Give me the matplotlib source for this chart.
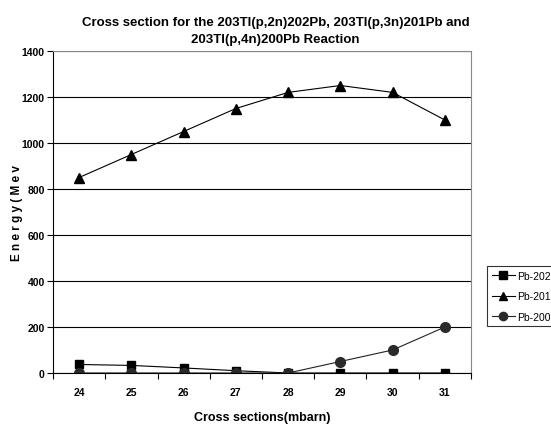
import matplotlib.pyplot as plt
import numpy as np

plt.rcParams['font.family'] = ['Liberation Sans', 'DejaVu Sans']

# Chart data
categories = ["24", "25", "26", "27", "28", "29", "30", "31"]
pb202 = [37, 33, 22, 10, 0, 0, 0, 0]
pb201 = [850, 950, 1050, 1150, 1220, 1250, 1220, 1100]
pb200 = [0, 0, 0, 0, 0, 50, 100, 200]
y_ticks = [0, 200, 400, 600, 800, 1000, 1200, 1400]

fig = plt.figure(figsize=(5.51, 4.27), dpi=100)
ax = fig.add_axes([53 / 551, 1 - 374 / 427, 418 / 551, 322 / 427])

x = np.arange(len(categories))
ax.plot(x, pb202, color="black", lw=0.8, marker="s", ms=6, label="Pb-202")
ax.plot(x, pb201, color="black", lw=0.8, marker="^", ms=7, label="Pb-201")
ax.plot(x, pb200, color="#222222", lw=0.8, marker="o", ms=7, mfc="#2a2a2a", mec="#2a2a2a", label="Pb-200")

ax.set_xlim(-0.5, len(categories) - 0.5)
ax.set_ylim(0, 1400)
ax.set_yticks(y_ticks)
ax.set_yticklabels([str(v) for v in y_ticks], fontsize=7.5, fontweight="bold")
ax.set_xticks(x)
ax.set_xticklabels(categories, fontsize=7.5, fontweight="bold")
ax.tick_params(axis="x", which="major", length=0, pad=10)
ax.set_xticks(np.arange(-0.5, len(categories)), minor=True)
ax.tick_params(axis="x", which="minor", length=4, width=0.8, direction="out")
ax.tick_params(axis="y", length=4, width=0.8, direction="out", pad=2)

ax.grid(axis="y", color="black", lw=0.8)
ax.set_axisbelow(True)
for side in ["top", "right"]:
    ax.spines[side].set_color("#888888")
for side in ["left", "bottom"]:
    ax.spines[side].set_color("black")

ax.set_xlabel("Cross sections(mbarn)", fontsize=9, fontweight="bold")
ax.xaxis.set_label_coords(0.5, -(412 - 374) / 322)
ax.set_ylabel("E n e r g y ( M e v", fontsize=8.5, fontweight="bold")
ax.yaxis.set_label_coords(-(53 - 23) / 418, 0.5)

fig.text(0.5, 1 - 17 / 427,
         "Cross section for the 203Tl(p,2n)202Pb, 203Tl(p,3n)201Pb and\n203Tl(p,4n)200Pb Reaction",
         ha="center", va="top", fontsize=9.5, fontweight="bold", linespacing=1.6)

leg = fig.legend(loc="upper left", bbox_to_anchor=(482 / 551, 1 - 262 / 427),
                 fontsize=7.5, frameon=True, fancybox=False, edgecolor="black",
                 handlelength=2.2, handletextpad=0.2, borderpad=0.45, labelspacing=1.0,
                 markerscale=0.85)
leg.get_frame().set_linewidth(0.8)

fig.savefig("out.png", dpi=100)
